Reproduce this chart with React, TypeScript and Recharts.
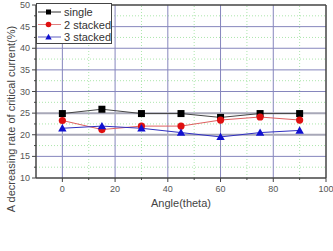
import React from 'react';
import {
  LineChart,
  Line,
  XAxis,
  YAxis,
  ReferenceLine,
  Legend
} from 'recharts';

// values
const angles = [0, 15, 30, 45, 60, 75, 90];
const single = [24.9, 25.9, 24.9, 24.9, 24.0, 24.9, 24.9];
const stacked2 = [23.3, 21.2, 22.0, 22.0, 23.4, 24.1, 23.4];
const stacked3 = [21.5, 22.0, 21.5, 20.5, 19.5, 20.5, 21.0];

const xMajor = [0, 20, 40, 60, 80, 100];
const xMinor = [10, 30, 50, 70, 90];
const yMajor = [10, 15, 20, 25, 30, 35, 40, 45, 50];
const yMinor = [12.5, 17.5, 22.5, 27.5, 32.5, 37.5, 42.5, 47.5];

const data = angles.map((a, i) => ({
  angle: a,
  single: single[i],
  stacked2: stacked2[i],
  stacked3: stacked3[i]
}));

const FONT = '"Liberation Sans", Arial, sans-serif';
const GRID = '#8686bd';
const MINOR = '#ace6ac';
const FRAME = '#444';

const XTick = (props: any) => {
  const { x, y, payload } = props;
  const major = xMajor.includes(payload.value);
  return (
    <g>
      <line x1={x} x2={x} y1={y} y2={y + (major ? 4 : 2)} stroke={FRAME} />
      {major && (
        <text x={x} y={y + 14} textAnchor="middle" fontSize={9} fill="#555" fontFamily={FONT}>
          {payload.value}
        </text>
      )}
    </g>
  );
};

const YTick = (props: any) => {
  const { x, y, payload } = props;
  const major = yMajor.includes(payload.value);
  return (
    <g>
      <line x1={x - (major ? 4 : 2)} x2={x} y1={y} y2={y} stroke={FRAME} />
      {major && (
        <text x={x - 6} y={y + 3} textAnchor="end" fontSize={9} fill="#555" fontFamily={FONT}>
          {payload.value}
        </text>
      )}
    </g>
  );
};

const YLabel = () => (
  <text
    x={11}
    y={119}
    transform="rotate(-90 11 119)"
    textAnchor="middle"
    dominantBaseline="central"
    fontSize={11}
    fill="#444"
    fontFamily={FONT}
  >
    A decreasing rate of critical current(%)
  </text>
);

const Square = (props: any) => {
  const { cx, cy, index } = props;
  return <rect key={`sq-${index}`} x={cx - 3.5} y={cy - 3.5} width={7} height={7} fill="#000" />;
};
const Circle = (props: any) => {
  const { cx, cy, index } = props;
  return <circle key={`ci-${index}`} cx={cx} cy={cy} r={3.6} fill="#e01010" />;
};
const Triangle = (props: any) => {
  const { cx, cy, index } = props;
  return (
    <polygon
      key={`tr-${index}`}
      points={`${cx},${cy - 4.2} ${cx - 4.2},${cy + 3.2} ${cx + 4.2},${cy + 3.2}`}
      fill="#1010d0"
    />
  );
};

const legendItems = [
  { name: 'single', line: '#333', marker: 'square' },
  { name: '2 stacked', line: '#e08080', marker: 'circle' },
  { name: '3 stacked', line: '#6060c0', marker: 'triangle' }
];

const LegendBox = () => (
  <svg width={76} height={41} style={{ display: 'block' }}>
    <rect x={0.5} y={0.5} width={75} height={40} fill="#fff" stroke={FRAME} />
    {legendItems.map((it, i) => {
      const cy = 9 + i * 12.5;
      return (
        <g key={it.name}>
          <line x1={2} x2={25} y1={cy} y2={cy} stroke={it.line} />
          {it.marker === 'square' && <rect x={10} y={cy - 2.5} width={5} height={5} fill="#000" />}
          {it.marker === 'circle' && <circle cx={12.5} cy={cy} r={2.8} fill="#e01010" />}
          {it.marker === 'triangle' && (
            <polygon points={`12.5,${cy - 3.2} 9.3,${cy + 2.4} 15.7,${cy + 2.4}`} fill="#1010d0" />
          )}
          <text x={28} y={cy + 4} fontSize={11} fill="#333" fontFamily={FONT}>
            {it.name}
          </text>
        </g>
      );
    })}
  </svg>
);

const App: React.FC = () => {
  return (
    <div style={{ position: 'absolute', left: 0, top: 0, width: 333, height: 251, background: '#fff' }}>
      <LineChart width={333} height={251} data={data} margin={{ top: 5, right: 7, bottom: 0, left: 0 }}>
        {xMinor.map((v) => (
          <ReferenceLine key={`xm-${v}`} x={v} stroke={MINOR} strokeDasharray="1 2" />
        ))}
        {yMinor.map((v) => (
          <ReferenceLine key={`ym-${v}`} y={v} stroke={MINOR} strokeDasharray="1 2" />
        ))}
        {xMajor.slice(0, -1).map((v) => (
          <ReferenceLine key={`xM-${v}`} x={v} stroke={GRID} />
        ))}
        {yMajor.slice(1, -1).map((v) => (
          <ReferenceLine
            key={`yM-${v}`}
            y={v}
            stroke={v === 20 || v === 25 ? '#a8a8b8' : GRID}
            strokeWidth={v === 20 || v === 25 ? 2 : 1}
          />
        ))}
        <ReferenceLine y={50} stroke={FRAME} strokeWidth={1.5} />
        <ReferenceLine x={100} stroke={FRAME} strokeWidth={1.5} />
        <XAxis
          type="number"
          dataKey="angle"
          domain={[-10, 100]}
          ticks={[...xMajor, ...xMinor].sort((a, b) => a - b)}
          interval={0}
          height={32}
          tickSize={0}
          tickMargin={0}
          tickLine={false}
          axisLine={{ stroke: FRAME, strokeWidth: 1.5 }}
          tick={<XTick />}
          label={{
            value: 'Angle(theta)',
            position: 'insideBottom',
            offset: 3,
            fontSize: 11,
            fill: '#444',
            fontFamily: FONT
          }}
        />
        <YAxis
          type="number"
          domain={[10, 50]}
          ticks={[...yMajor, ...yMinor].sort((a, b) => a - b)}
          interval={0}
          width={36}
          tickSize={0}
          tickMargin={0}
          tickLine={false}
          axisLine={{ stroke: FRAME, strokeWidth: 1.5 }}
          tick={<YTick />}
          label={<YLabel />}
        />
        <Legend
          content={<LegendBox />}
          wrapperStyle={{ position: 'absolute', left: 36, top: 3, width: 76, height: 41 }}
        />
        <Line
          dataKey="single"
          stroke="#444"
          strokeWidth={1}
          dot={<Square />}
          isAnimationActive={false}
        />
        <Line
          dataKey="stacked2"
          stroke="#e06060"
          strokeWidth={1}
          dot={<Circle />}
          isAnimationActive={false}
        />
        <Line
          dataKey="stacked3"
          stroke="#3030c0"
          strokeWidth={1}
          dot={<Triangle />}
          isAnimationActive={false}
        />
      </LineChart>
    </div>
  );
};

export default App;
